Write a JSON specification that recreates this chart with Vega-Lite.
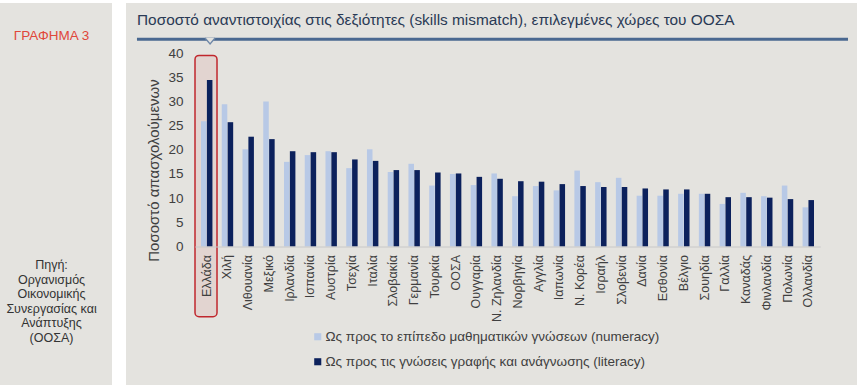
{
  "$schema": "https://vega.github.io/schema/vega-lite/v6.json",
  "background": "#ffffff",
  "padding": {"left": 0, "top": 3, "right": 5, "bottom": 3},
  "config": {"view": {"stroke": null}, "font": "Liberation Sans"},
  "spacing": 14,
  "hconcat": [
    {
      "width": 112,
      "height": 382,
      "view": {"fill": "#e4e3df"},
      "data": {"values": [{}]},
      "layer": [
        {
          "mark": {"type": "text", "font": "Liberation Sans", "fontSize": 13.5, "color": "#e0473a", "align": "center", "baseline": "middle"},
          "encoding": {
            "x": {"datum": 0.46, "type": "quantitative", "scale": {"domain": [0, 1], "nice": false}, "axis": null},
            "y": {"datum": 0.0864, "type": "quantitative", "scale": {"domain": [0, 1], "nice": false, "reverse": true}, "axis": null},
            "text": {"value": "ΓΡΑΦΗΜΑ 3"}
          }
        },
        {
          "mark": {"type": "text", "font": "Liberation Sans", "fontSize": 12.5, "lineHeight": 14.5, "color": "#333333", "align": "center", "baseline": "middle"},
          "encoding": {
            "x": {"datum": 0.46, "type": "quantitative", "scale": {"domain": [0, 1], "nice": false}, "axis": null},
            "y": {"datum": 0.686, "type": "quantitative", "scale": {"domain": [0, 1], "nice": false, "reverse": true}, "axis": null},
            "text": {"value": ["Πηγή:", "Οργανισμός", "Οικονομικής", "Συνεργασίας και", "Ανάπτυξης", "(ΟΟΣΑ)"]}
          }
        }
      ]
    },
    {
      "width": 731,
      "height": 382,
      "view": {"fill": "#e4e3df"},
      "title": {
        "text": "Ποσοστό αναντιστοιχίας στις δεξιότητες (skills mismatch), επιλεγμένες χώρες του ΟΟΣΑ",
        "anchor": "start",
        "frame": "group",
        "offset": 0,
        "baseline": "alphabetic",
        "dx": 11,
        "dy": 37,
        "font": "Liberation Sans",
        "fontSize": 15.4,
        "fontWeight": "normal",
        "color": "#2a3a55"
      },
      "resolve": {"scale": {"x": "independent"}},
      "layer": [
        {
          "data": {"values": [{}]},
          "mark": {"type": "rect", "fill": "#c62828", "fillOpacity": 0.08, "stroke": "#c0272d", "strokeWidth": 1.5, "cornerRadius": 4},
          "encoding": {
            "x": {"datum": 0.0944, "type": "quantitative", "scale": {"domain": [0, 1], "nice": false, "zero": false}, "axis": null},
            "x2": {"datum": 0.1245},
            "y": {"datum": 39.5, "type": "quantitative", "scale": {"domain": [-28.63, 50.34], "nice": false, "zero": false}},
            "y2": {"datum": -14.5}
          }
        },
        {
          "data": {"values": [{}]},
          "mark": {"type": "rule", "color": "#4a6890", "strokeWidth": 3},
          "encoding": {
            "x": {"datum": 0.015, "type": "quantitative", "scale": {"domain": [0, 1], "nice": false, "zero": false}, "axis": null},
            "x2": {"datum": 0.9877},
            "y": {"datum": 42.83, "type": "quantitative", "scale": {"domain": [-28.63, 50.34], "nice": false, "zero": false}}
          }
        },
        {
          "data": {"values": [{}]},
          "mark": {"type": "point", "shape": "M-1,-0.6L0,0.6L1,-0.6", "size": 100, "filled": false, "fill": "#e4e3df", "fillOpacity": 1, "stroke": "#6f88a8", "strokeWidth": 1.3, "opacity": 1},
          "encoding": {
            "x": {"datum": 0.115, "type": "quantitative", "scale": {"domain": [0, 1], "nice": false, "zero": false}, "axis": null},
            "y": {"datum": 42.48, "type": "quantitative", "scale": {"domain": [-28.63, 50.34], "nice": false, "zero": false}}
          }
        },
        {
          "data": {
            "values": [
              {"country": "Ελλάδα", "numeracy": 25.9, "literacy": 34.4},
              {"country": "Χιλή", "numeracy": 29.4, "literacy": 25.7},
              {"country": "Λιθουανία", "numeracy": 20.1, "literacy": 22.7},
              {"country": "Μεξικό", "numeracy": 30.0, "literacy": 22.2},
              {"country": "Ιρλανδία", "numeracy": 17.5, "literacy": 19.7},
              {"country": "Ισπανία", "numeracy": 18.9, "literacy": 19.5},
              {"country": "Αυστρία", "numeracy": 19.7, "literacy": 19.5},
              {"country": "Τσεχία", "numeracy": 16.2, "literacy": 18.0},
              {"country": "Ιταλία", "numeracy": 20.1, "literacy": 17.7},
              {"country": "Σλοβακία", "numeracy": 15.4, "literacy": 15.8},
              {"country": "Γερμανία", "numeracy": 17.1, "literacy": 15.8},
              {"country": "Τουρκία", "numeracy": 12.6, "literacy": 15.3},
              {"country": "ΟΟΣΑ", "numeracy": 15.0, "literacy": 15.1},
              {"country": "Ουγγαρία", "numeracy": 12.7, "literacy": 14.4},
              {"country": "Ν. Ζηλανδία", "numeracy": 15.1, "literacy": 14.0},
              {"country": "Νορβηγία", "numeracy": 10.4, "literacy": 13.5},
              {"country": "Αγγλία", "numeracy": 12.5, "literacy": 13.4},
              {"country": "Ιαπωνία", "numeracy": 11.6, "literacy": 12.9},
              {"country": "Ν. Κορέα", "numeracy": 15.7, "literacy": 12.5},
              {"country": "Ισραήλ", "numeracy": 13.3, "literacy": 12.3},
              {"country": "Σλοβενία", "numeracy": 14.2, "literacy": 12.3},
              {"country": "Δανία", "numeracy": 10.5, "literacy": 12.0},
              {"country": "Εσθονία", "numeracy": 10.5, "literacy": 11.8},
              {"country": "Βέλγιο", "numeracy": 10.9, "literacy": 11.8},
              {"country": "Σουηδία", "numeracy": 10.9, "literacy": 10.9},
              {"country": "Γαλλία", "numeracy": 8.8, "literacy": 10.2},
              {"country": "Καναδάς", "numeracy": 11.1, "literacy": 10.2},
              {"country": "Φινλανδία", "numeracy": 10.4, "literacy": 10.1},
              {"country": "Πολωνία", "numeracy": 12.6, "literacy": 9.8},
              {"country": "Ολλανδία", "numeracy": 8.1, "literacy": 9.6}
            ]
          },
          "transform": [{"fold": ["numeracy", "literacy"], "as": ["series", "value"]}],
          "mark": {"type": "bar"},
          "encoding": {
            "x": {
              "field": "country",
              "type": "nominal",
              "sort": null,
              "scale": {"range": [68.8, 694.2], "paddingInner": 0.45, "paddingOuter": 0.3, "align": 0.5},
              "axis": {
                "title": null,
                "labelAngle": -90,
                "labelAlign": "right",
                "labelBaseline": "middle",
                "labelPadding": 8,
                "ticks": false,
                "domain": true,
                "domainColor": "#c8c8c8",
                "domainWidth": 1,
                "offset": -138.5,
                "labelFont": "Liberation Sans",
                "labelFontSize": 12.5,
                "labelColor": "#404040",
                "zindex": 1
              }
            },
            "xOffset": {"field": "series", "type": "nominal", "sort": ["numeracy", "literacy"], "scale": {"paddingInner": 0.06, "paddingOuter": 0}},
            "y": {
              "field": "value",
              "type": "quantitative",
              "scale": {"domain": [-28.63, 50.34], "nice": false, "zero": false},
              "axis": {
                "title": "Ποσοστό απασχολούμενων",
                "values": [0, 5, 10, 15, 20, 25, 30, 35, 40],
                "grid": false,
                "domain": false,
                "ticks": false,
                "tickSize": 0,
                "labelPadding": 0,
                "offset": -57,
                "labelFont": "Liberation Sans",
                "labelFontSize": 13.5,
                "labelColor": "#404040",
                "titleFont": "Liberation Sans",
                "titleFontSize": 15,
                "titleFontWeight": "normal",
                "titleColor": "#404040",
                "titlePadding": 6,
                "titleY": 167
              }
            },
            "color": {
              "field": "series",
              "type": "nominal",
              "scale": {"domain": ["numeracy", "literacy"], "range": ["#b8c9e6", "#0c215c"]},
              "legend": {
                "title": null,
                "orient": "none",
                "legendX": 311,
                "legendY": 327,
                "direction": "vertical",
                "symbolType": "square",
                "symbolSize": 50,
                "symbolStrokeWidth": 0,
                "labelFont": "Liberation Sans",
                "labelFontSize": 13.5,
                "labelColor": "#404040",
                "labelOffset": 1,
                "rowPadding": 10,
                "labelLimit": 500,
                "labelExpr": "datum.value == 'numeracy' ? 'Ως προς το επίπεδο μαθηματικών γνώσεων (numeracy)' : 'Ως προς τις γνώσεις γραφής και ανάγνωσης (literacy)'"
              }
            }
          }
        }
      ]
    }
  ]
}
